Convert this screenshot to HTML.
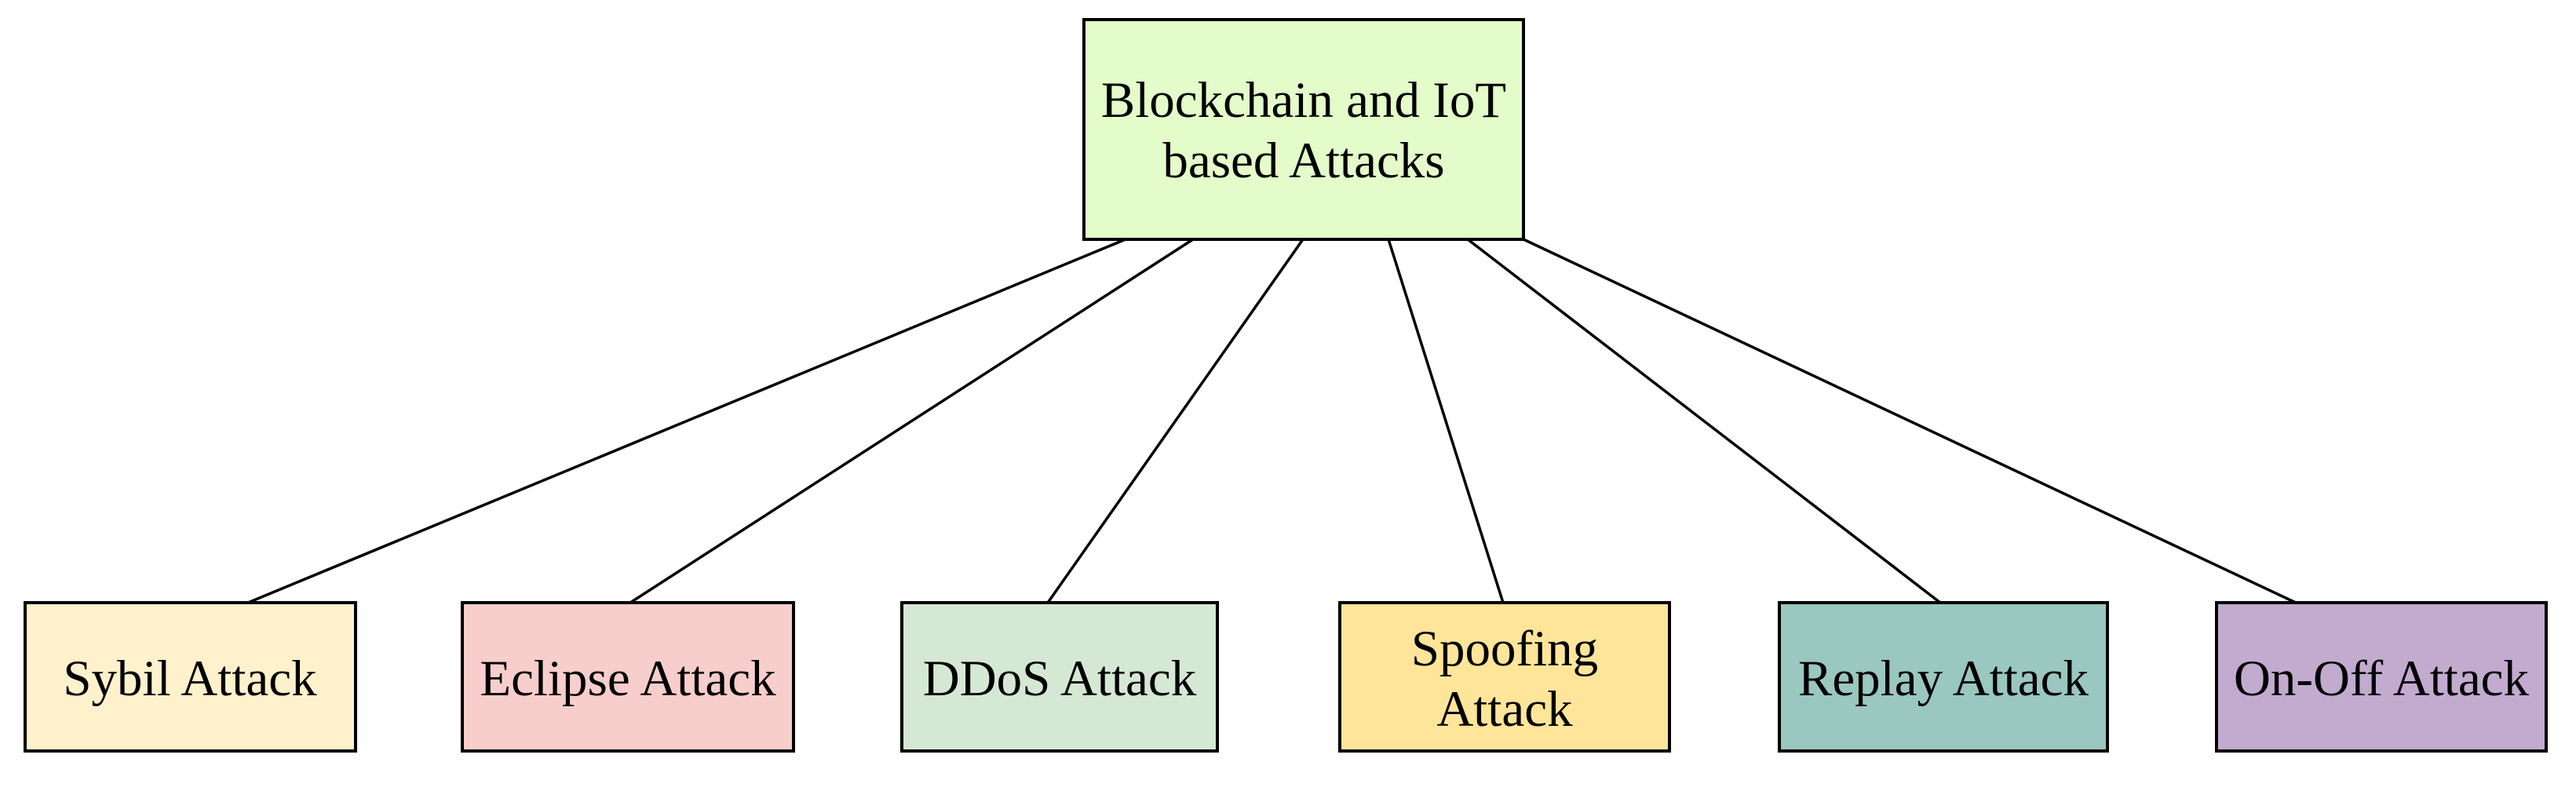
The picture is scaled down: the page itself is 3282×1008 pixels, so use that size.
<!DOCTYPE html>
<html><head><meta charset="utf-8"><style>
html,body{margin:0;padding:0;background:#fff;}
svg{display:block;}
text{font-family:"Liberation Serif",serif;font-size:65px;fill:#000;}
</style></head><body>
<svg width="3282" height="1008" viewBox="0 0 3282 1008" xmlns="http://www.w3.org/2000/svg">
<g stroke="#000" stroke-width="3.5" fill="none">
<line x1="1434" y1="305" x2="316" y2="768"/>
<line x1="1520" y1="305" x2="803" y2="768"/>
<line x1="1660" y1="305" x2="1335" y2="768"/>
<line x1="1769" y1="305" x2="1915" y2="768"/>
<line x1="1870" y1="305" x2="2472" y2="768"/>
<line x1="1941" y1="305" x2="2925" y2="768"/>
</g>
<g stroke="#000" stroke-width="4">
<rect x="1381" y="25" width="560" height="280" fill="#E3FCC9"/>
<rect x="32" y="768" width="421" height="189" fill="#FFF1CC"/>
<rect x="589" y="768" width="422" height="189" fill="#F8CECC"/>
<rect x="1149" y="768" width="402" height="189" fill="#D5E8D4"/>
<rect x="1707" y="768" width="420" height="189" fill="#FFE599"/>
<rect x="2267" y="768" width="418" height="189" fill="#9AC7BF"/>
<rect x="2824" y="768" width="420" height="189" fill="#C3ABD0"/>
</g>
<g text-anchor="middle">
<text x="1661" y="149">Blockchain and IoT</text>
<text x="1661" y="226">based Attacks</text>
<text x="242" y="886">Sybil Attack</text>
<text x="800" y="886">Eclipse Attack</text>
<text x="1350" y="886">DDoS Attack</text>
<text x="1917" y="848">Spoofing</text>
<text x="1917" y="925">Attack</text>
<text x="2476" y="886">Replay Attack</text>
<text x="3034" y="886">On-Off Attack</text>
</g>
</svg>
</body></html>
